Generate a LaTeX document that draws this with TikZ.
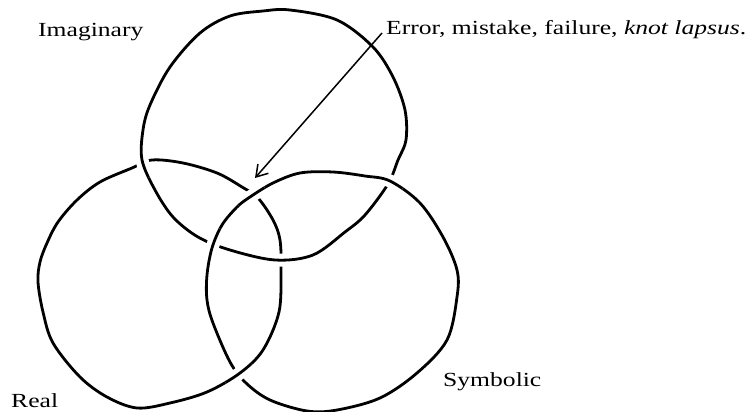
\documentclass[tikz,border=0pt]{standalone}
\usepackage{fontspec}
\setmainfont{Liberation Serif}[FakeStretch=1.28, UprightFont={Liberation Serif}, ItalicFont={Liberation Serif Italic}]
\usetikzlibrary{arrows.meta}
\begin{document}
\newcommand\imagcurve{plot[smooth cycle, tension=0.55] coordinates {(142,160) (143,130) (150,105) (170,67) (200,33) (230,16) (263,11) (290,10) (337,20) (373,47) (393,77) (405,110) (406,140) (398,160) (388,184) (365,215) (345,232) (313,255) (275,260) (230,250) (198,237) (173,217) (155,190)}}
\newcommand\realcurve{plot[smooth cycle, tension=0.55] coordinates {(132,168) (100,182) (77,200) (58,222) (47,243) (40,262) (38,282) (43,312) (53,343) (80,377) (107,397) (137,408) (170,403) (207,392) (240,373) (263,350) (279,312) (281,270) (280,240) (273,220) (258,198) (242,187) (217,173) (183,163) (152,160)}}
\newcommand\symbcurve{plot[smooth cycle, tension=0.55] coordinates {(207,300) (207,275) (212,248) (222,225) (237,207) (250,197) (273,183) (300,173) (333,172) (365,176) (390,181) (420,203) (443,237) (457,270) (457,297) (447,340) (417,373) (380,398) (337,410) (307,411) (270,400) (246,383) (230,362) (213,323)}}
\newcommand\overcross[2]{%
  \begin{scope}
    \clip #2 circle (16);
    \draw[gapline] #1;
    \draw[knot] #1;
  \end{scope}}
\begin{tikzpicture}[x=1pt,y=-1pt,
  knot/.style={line width=2.8pt, black},
  gapline/.style={line width=13pt, white},
  pointer/.style={line width=1.5pt, black, -{Straight Barb[length=11pt,width=14pt]}},
  lbl/.style={anchor=base west, inner sep=0pt, font=\fontsize{20}{24}\selectfont}]
  \useasboundingbox (0,0) rectangle (750,412);
  \fill[white] (0,0) rectangle (750,412);
  % the three rings
  \draw[knot] \imagcurve;
  \draw[knot] \realcurve;
  \draw[knot] \symbcurve;
  % crossings: over strand redrawn with a white gap beneath
  \overcross{\imagcurve}{(142,163)}
  \overcross{\imagcurve}{(280,259)}
  \overcross{\symbcurve}{(211,242)}
  \overcross{\symbcurve}{(388,182)}
  \overcross{\symbcurve}{(250,194)}
  \overcross{\realcurve}{(239,374)}
  % labels
  \node[lbl] (imag) at (38,37) {Imaginary};
  \node[lbl] (err) at (386,35) {Error, mistake, failure, \textit{knot lapsus}.};
  \node[lbl] (real) at (11,407) {Real};
  \node[lbl] (symb) at (443,386) {Symbolic};
  % arrow
  \coordinate (arrowstart) at (382,33);
  \coordinate (arrowtip) at (255,178);
  \draw[pointer] (arrowstart) -- (arrowtip);
\end{tikzpicture}
\end{document}
